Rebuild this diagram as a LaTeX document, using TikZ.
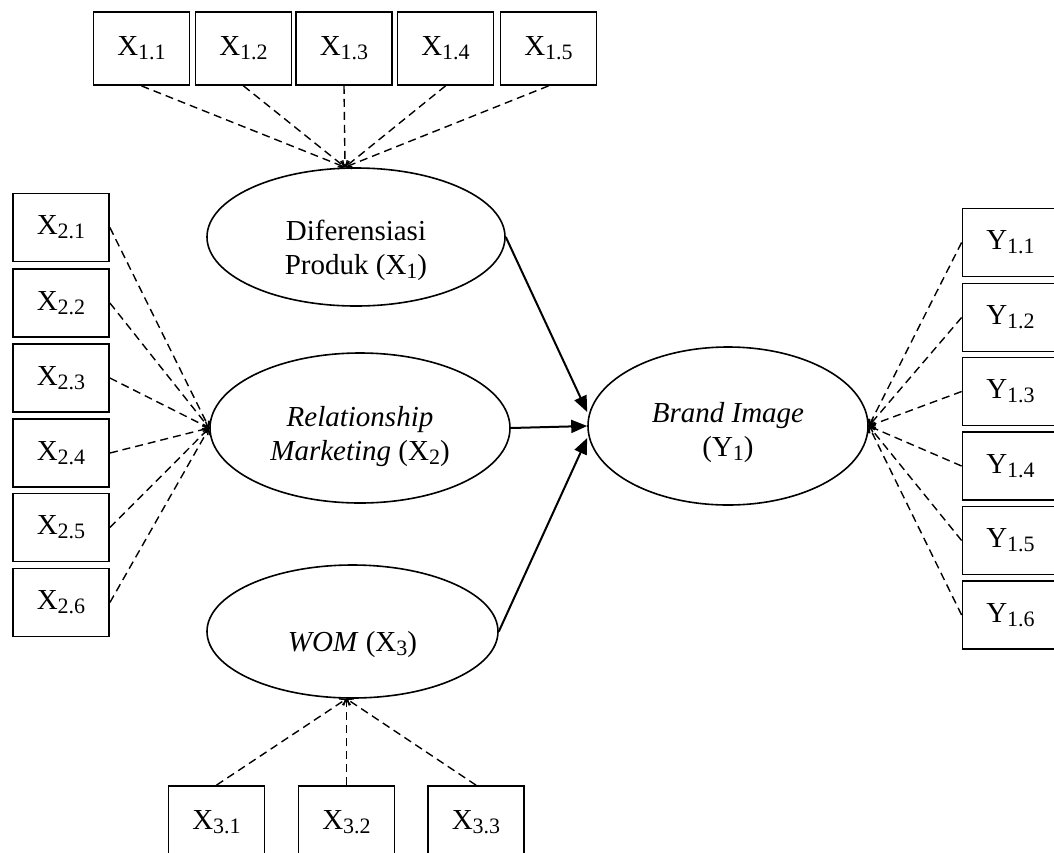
\documentclass[tikz,border=0pt]{standalone}
\usepackage{fontspec}
\setmainfont{Liberation Serif}
\usetikzlibrary{shapes.geometric,arrows.meta,calc}
\newcommand{\lo}[1]{\raisebox{-2pt}{\fontsize{11}{11}\selectfont #1}}

\begin{document}
\begin{tikzpicture}[x=0.5pt,y=-0.5pt,
    font=\fontsize{14.5}{17}\selectfont,
    ind/.style={draw,line width=0.9pt,minimum width=48pt,minimum height=34pt,inner sep=0pt},
    tall/.style={minimum height=36.5pt},
    lat/.style={draw,ellipse,line width=0.8pt,inner sep=0pt,align=center},
    txt/.style={align=center,inner sep=0pt},
    load/.style={dashed,dash pattern=on 4pt off 2.5pt,line width=0.7pt,-{Straight Barb[length=2.5pt,width=4pt]}},
    path/.style={line width=1pt,-{Triangle[length=8pt,width=6.5pt]}}]
      \useasboundingbox (0,0) rectangle (1054,852);
      \clip (0,0) rectangle (1054,852);

      % latent variables
      \node[lat,minimum width=149pt,minimum height=69pt,
        label={[txt,yshift=-6.5pt]center:Diferensiasi\\Produk (X\lo{1})}] (dif) at (356,237) {};
      \node[lat,minimum width=150pt,minimum height=75pt,
        label={[txt,yshift=-4.5pt]center:\textit{Relationship}\\\textit{Marketing} (X\lo{2})}] (rel) at (360,428) {};
      \node[lat,minimum width=145.5pt,minimum height=66.5pt,text height=20pt,text depth=0pt] (wom) at (352.5,631.5) {\textit{WOM} (X\lo{3})};
      \node[lat,minimum width=140pt,minimum height=79pt,
        label={[txt,yshift=-3.5pt]center:\textit{Brand Image}\\(Y\lo{1})}] (bi) at (728,426) {};

      \coordinate (dtop) at ($(dif.north)+(-11,0)$);
      \coordinate (wbot) at ($(wom.south)+(-6,0)$);

      % indicators X1
      \node[ind,tall] (x11) at (141.5,48.5) {X\lo{1.1}};
      \node[ind,tall] (x12) at (243.5,48.5) {X\lo{1.2}};
      \node[ind,tall] (x13) at (344,48.5) {X\lo{1.3}};
      \node[ind,tall] (x14) at (445.5,48.5) {X\lo{1.4}};
      \node[ind,tall] (x15) at (548.5,48.5) {X\lo{1.5}};

      % indicators X2
      \node[ind] (x21) at (61,227.5) {X\lo{2.1}};
      \node[ind] (x22) at (61,303) {X\lo{2.2}};
      \node[ind] (x23) at (61,378) {X\lo{2.3}};
      \node[ind] (x24) at (61,453) {X\lo{2.4}};
      \node[ind] (x25) at (61,527.5) {X\lo{2.5}};
      \node[ind] (x26) at (61,602.5) {X\lo{2.6}};

      % indicators X3
      \node[ind,tall] (x31) at (216.5,822.5) {X\lo{3.1}};
      \node[ind,tall] (x32) at (346.5,822.5) {X\lo{3.2}};
      \node[ind,tall] (x33) at (476,822.5) {X\lo{3.3}};

      % indicators Y1
      \node[ind] (y11) at (1010.5,242.5) {Y\lo{1.1}};
      \node[ind] (y12) at (1010.5,317.5) {Y\lo{1.2}};
      \node[ind] (y13) at (1010.5,391.5) {Y\lo{1.3}};
      \node[ind] (y14) at (1010.5,466) {Y\lo{1.4}};
      \node[ind] (y15) at (1010.5,540.5) {Y\lo{1.5}};
      \node[ind] (y16) at (1010.5,615) {Y\lo{1.6}};

      % loadings
      \draw[load] (x11.south) -- (dtop);
      \draw[load] (x12.south) -- (dtop);
      \draw[load] (x13.south) -- (dtop);
      \draw[load] (x14.south) -- (dtop);
      \draw[load] (x15.south) -- (dtop);

      \draw[load] (x21.east) -- (rel.west);
      \draw[load] (x22.east) -- (rel.west);
      \draw[load] (x23.east) -- (rel.west);
      \draw[load] (x24.east) -- (rel.west);
      \draw[load] (x25.east) -- (rel.west);
      \draw[load] (x26.east) -- (rel.west);

      \draw[load] (x31.north) -- (wbot);
      \draw[load] (x32.north) -- (wbot);
      \draw[load] (x33.north) -- (wbot);

      \draw[load] (y11.west) -- (bi.east);
      \draw[load] (y12.west) -- (bi.east);
      \draw[load] (y13.west) -- (bi.east);
      \draw[load] (y14.west) -- (bi.east);
      \draw[load] (y15.west) -- (bi.east);
      \draw[load] (y16.west) -- (bi.east);

      % structural paths
      \draw[path] (dif.east) -- ($(bi.west)+(0,-14)$);
      \draw[path] (rel.east) -- (bi.west);
      \draw[path] (wom.east) -- ($(bi.west)+(0,12)$);
\end{tikzpicture}
\end{document}
